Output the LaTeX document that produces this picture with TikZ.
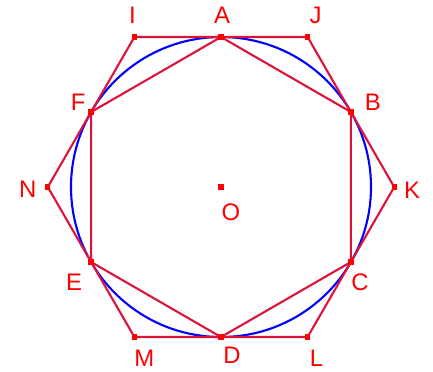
\documentclass[tikz,border=0pt]{standalone}
\usepackage{fontspec}
\setmainfont{Liberation Sans}
\usepackage{tikz}
\usetikzlibrary{
  calc,       % 坐标计算
  positioning % 节点相对定位
}
\definecolor{edgecol}{RGB}{220,20,60}
\tikzset{
  hex edge/.style={
    draw=edgecol,
    line width=0.6pt,
    line join=round
  },
  in circle/.style={
    draw=blue,
    line width=0.6pt
  },
  pt dot/.style={
    rectangle,
    fill=red,
    inner sep=0pt,
    minimum size=1.5pt
  },
  pt label/.style={
    text=red,
    font=\fontsize{6.8}{8}\selectfont,
    inner sep=0pt
  }
}

\begin{document}
\begin{tikzpicture}
  % 画布（433x371，1cm = 100px）
  \useasboundingbox (0,0) rectangle (4.33,3.71);

  % 圆心 O
  \coordinate (O) at (2.21,1.84);

  % 内接六边形顶点 A--F
  \foreach \n/\a in {A/90, B/30, C/-30, D/-90, E/-150, F/150}
    \coordinate (\n) at ($(O)+(\a:1.5)$);

  % 外切六边形顶点 I--N
  \foreach \n/\a in {J/60, K/0, L/-60, M/-120, N/180, I/120}
    \coordinate (\n) at ($(O)+(\a:1.732)$);

  % 圆
  \draw[in circle] (O) circle (1.5);

  % 外切六边形
  \draw[hex edge] (I) -- (J) -- (K) -- (L) -- (M) -- (N) -- cycle;

  % 内接六边形
  \draw[hex edge] (A) -- (B) -- (C) -- (D) -- (E) -- (F) -- cycle;

  % 顶点小方块
  \foreach \n in {A,B,C,D,E,F,I,J,K,L,M,N,O}
    \node[pt dot] (p\n) at (\n) {};

  % 顶点标注
  \node[pt label] (lA) at ($(A)+(0.01,0.22)$) {A};
  \node[pt label] (lB) at ($(B)+(0.22,0.10)$) {B};
  \node[pt label] (lC) at ($(C)+(0.09,-0.20)$) {C};
  \node[pt label] (lD) at ($(D)+(0.11,-0.18)$) {D};
  \node[pt label] (lE) at ($(E)+(-0.17,-0.20)$) {E};
  \node[pt label] (lF) at ($(F)+(-0.13,0.10)$) {F};
  \node[pt label] (lI) at ($(I)+(-0.02,0.22)$) {I};
  \node[pt label] (lJ) at ($(J)+(0.08,0.22)$) {J};
  \node[pt label] (lK) at ($(K)+(0.18,-0.03)$) {K};
  \node[pt label] (lL) at ($(L)+(0.09,-0.21)$) {L};
  \node[pt label] (lM) at ($(M)+(0.10,-0.21)$) {M};
  \node[pt label] (lN) at ($(N)+(-0.20,-0.02)$) {N};
  \node[pt label] (lO) at ($(O)+(0.10,-0.25)$) {O};
\end{tikzpicture}
\end{document}
